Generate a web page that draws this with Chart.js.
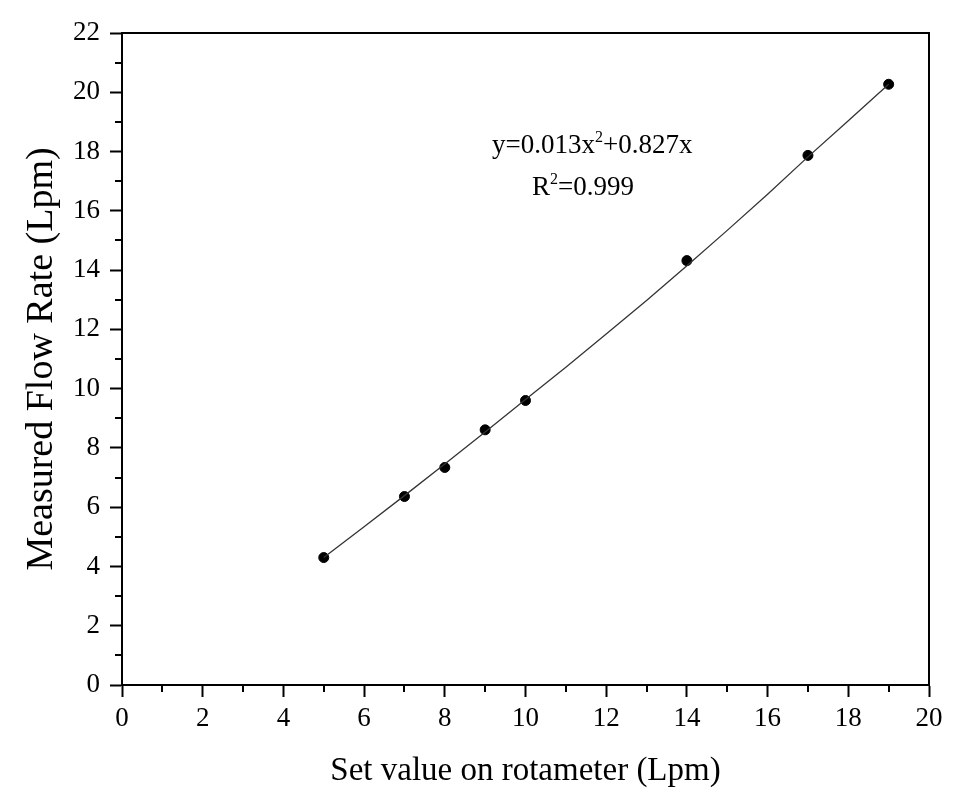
<!DOCTYPE html>
<html>
<head>
<meta charset="utf-8">
<script src="https://cdn.jsdelivr.net/npm/chart.js@4/dist/chart.umd.min.js"></script>
<style>
html,body{margin:0;padding:0;background:#fff;}
#wrap{width:956px;height:795px;position:relative;}
</style>
</head>
<body>
<div id="wrap"><canvas id="c" width="956" height="795"></canvas></div>
<script>
// Measured points
const setValues = [5, 7, 8, 9, 10, 14, 17, 19];
const measuredValues = [4.30, 6.36, 7.34, 8.61, 9.60, 14.32, 17.87, 20.27];
// Fitted curve
const fitX = [5, 6, 7, 8, 9, 10, 11, 12, 13, 14, 15, 16, 17, 18, 19];
const fitY = [4.30, 5.34, 6.39, 7.46, 8.54, 9.63, 10.72, 11.84, 12.97, 14.15, 15.34, 16.56, 17.82, 19.04, 20.27];
// Axis ticks
const xTicks = [0, 2, 4, 6, 8, 10, 12, 14, 16, 18, 20];
const yTicks = [0, 2, 4, 6, 8, 10, 12, 14, 16, 18, 20, 22];
const xMinor = [1, 3, 5, 7, 9, 11, 13, 15, 17, 19];
const yMinor = [1, 3, 5, 7, 9, 11, 13, 15, 17, 19, 21];
const xTitle = 'Set value on rotameter (Lpm)';
const yTitle = 'Measured Flow Rate (Lpm)';
const eqParts = ['y=0.013x', '2', '+0.827x'];
const r2Parts = ['R', '2', '=0.999'];

const FONT = '"Liberation Serif", "Times New Roman", serif';

const framePlugin = {
  id: 'frame',
  afterDraw(chart) {
    const {ctx, chartArea: a, scales: {x, y}} = chart;
    ctx.save();
    ctx.strokeStyle = '#000';
    ctx.lineWidth = 2;
    ctx.beginPath();
    ctx.moveTo(a.left, a.top);
    ctx.lineTo(a.right, a.top);
    ctx.lineTo(a.right, a.bottom);
    ctx.stroke();
    ctx.beginPath();
    xMinor.forEach(v => {
      const px = Math.round(x.getPixelForValue(v));
      ctx.moveTo(px, a.bottom);
      ctx.lineTo(px, a.bottom + 7);
    });
    yMinor.forEach(v => {
      const py = Math.round(y.getPixelForValue(v));
      ctx.moveTo(a.left, py);
      ctx.lineTo(a.left - 7, py);
    });
    ctx.stroke();
    ctx.fillStyle = '#000';
    ctx.textBaseline = 'alphabetic';
    ctx.textAlign = 'left';
    const drawSup = (parts, xv, yv) => {
      let px = x.getPixelForValue(xv);
      const py = y.getPixelForValue(yv);
      ctx.font = '27px ' + FONT;
      ctx.fillText(parts[0], px, py);
      px += ctx.measureText(parts[0]).width;
      ctx.font = '16px ' + FONT;
      ctx.fillText(parts[1], px, py - 11);
      px += ctx.measureText(parts[1]).width;
      ctx.font = '27px ' + FONT;
      ctx.fillText(parts[2], px, py);
    };
    drawSup(eqParts, 9.17, 17.95);
    drawSup(r2Parts, 10.16, 16.53);
    ctx.restore();
  }
};

new Chart(document.getElementById('c'), {
  type: 'scatter',
  data: {
    datasets: [
      {
        type: 'line',
        data: fitX.map((v, i) => ({x: v, y: fitY[i]})),
        borderColor: '#333',
        borderWidth: 1.3,
        pointRadius: 0,
        fill: false,
        tension: 0
      },
      {
        data: setValues.map((v, i) => ({x: v, y: measuredValues[i]})),
        backgroundColor: '#000',
        borderColor: '#000',
        pointRadius: 5,
        pointHoverRadius: 5
      }
    ]
  },
  options: {
    responsive: false,
    animation: false,
    events: [],
    plugins: {legend: {display: false}, tooltip: {enabled: false}},
    layout: {padding: {left: 0, right: 27, top: 33, bottom: 0}},
    scales: {
      x: {
        type: 'linear', min: 0, max: 20,
        afterBuildTicks: s => { s.ticks = xTicks.map(v => ({value: v})); },
        afterFit: s => { s.height = 110; },
        ticks: {color: '#000', font: {family: FONT, size: 27}, padding: 6},
        grid: {drawOnChartArea: false, drawTicks: true, tickLength: 12, tickWidth: 2, tickColor: '#000'},
        border: {color: '#000', width: 2},
        title: {display: true, text: xTitle, color: '#000', font: {family: FONT, size: 33}, padding: {top: 0, bottom: 4}}
      },
      y: {
        type: 'linear', min: 0, max: 22,
        afterBuildTicks: s => { s.ticks = yTicks.map(v => ({value: v})); },
        afterFit: s => { s.width = 122; },
        ticks: {color: '#000', font: {family: FONT, size: 27}, padding: 10},
        grid: {drawOnChartArea: false, drawTicks: true, tickLength: 12, tickWidth: 2, tickColor: '#000'},
        border: {color: '#000', width: 2},
        title: {display: true, text: yTitle, color: '#000', font: {family: FONT, size: 38}, padding: {top: 19, bottom: 0}}
      }
    }
  },
  plugins: [framePlugin]
});
</script>
</body>
</html>
